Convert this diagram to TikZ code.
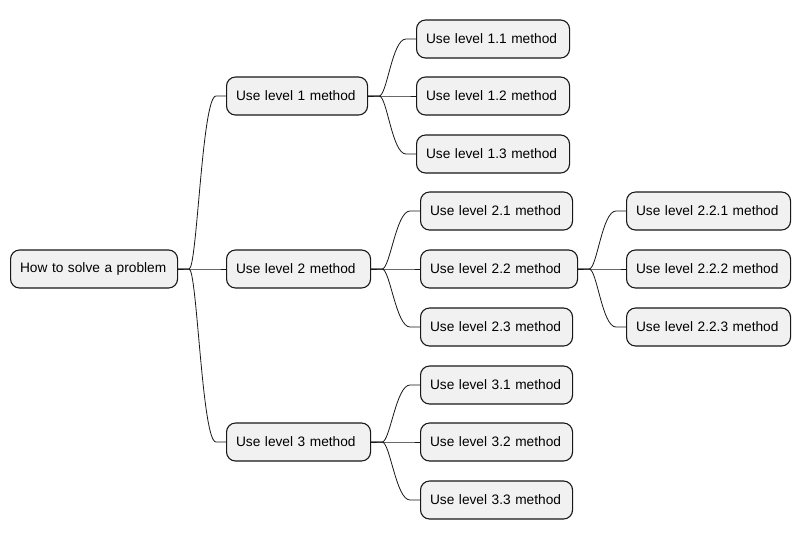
\documentclass[tikz,border=0pt]{standalone}
\usepackage{fontspec}
\setmainfont{Liberation Sans}
\usetikzlibrary{calc}
\definecolor{boxfill}{HTML}{F1F1F1}
\definecolor{boxline}{HTML}{181818}
\newcommand\mmlink[2]{%
  \draw[link] (#1.east) -- ++(11,0) .. controls +(8,0) and ($(#2.west)+(-24,0)$) .. ($(#2.west)+(-10,0)$) -- (#2.west);}
\begin{document}
\begin{tikzpicture}[x=1pt,y=-1pt,
  box/.style={draw=boxline, fill=boxfill, rounded corners=9pt, line width=1.1pt,
    minimum height=38pt, inner xsep=9.5pt, inner ysep=0pt, anchor=west,
    align=left, text width=#1, font=\fontsize{13.7}{16}\selectfont},
  link/.style={draw=boxline, line width=0.8pt, line join=round}]
\fill[white] (0,0) rectangle (801,539);
\useasboundingbox (0,0) rectangle (801,539);
\node[box=148pt] (root) at (10,269) {How to solve a problem};
\node[box=122pt] (l1) at (226,96) {Use level 1 method};
\node[box=125pt] (l2) at (226,269) {Use level 2 method};
\node[box=125pt] (l3) at (226,442) {Use level 3 method};
\node[box=134pt] (l11) at (416,39) {Use level 1.1 method};
\node[box=134pt] (l12) at (416,96) {Use level 1.2 method};
\node[box=134pt] (l13) at (416,154) {Use level 1.3 method};
\node[box=133pt] (l21) at (420,211) {Use level 2.1 method};
\node[box=138pt] (l22) at (420,269) {Use level 2.2 method};
\node[box=133pt] (l23) at (420,327) {Use level 2.3 method};
\node[box=145pt] (l221) at (626,211) {Use level 2.2.1 method};
\node[box=145pt] (l222) at (626,269) {Use level 2.2.2 method};
\node[box=145pt] (l223) at (626,327) {Use level 2.2.3 method};
\node[box=133pt] (l31) at (420,385) {Use level 3.1 method};
\node[box=133pt] (l32) at (420,442) {Use level 3.2 method};
\node[box=133pt] (l33) at (420,500) {Use level 3.3 method};
\mmlink{root}{l1}\mmlink{root}{l2}\mmlink{root}{l3}
\mmlink{l1}{l11}\mmlink{l1}{l12}\mmlink{l1}{l13}
\mmlink{l2}{l21}\mmlink{l2}{l22}\mmlink{l2}{l23}
\mmlink{l22}{l221}\mmlink{l22}{l222}\mmlink{l22}{l223}
\mmlink{l3}{l31}\mmlink{l3}{l32}\mmlink{l3}{l33}
\end{tikzpicture}
\end{document}
